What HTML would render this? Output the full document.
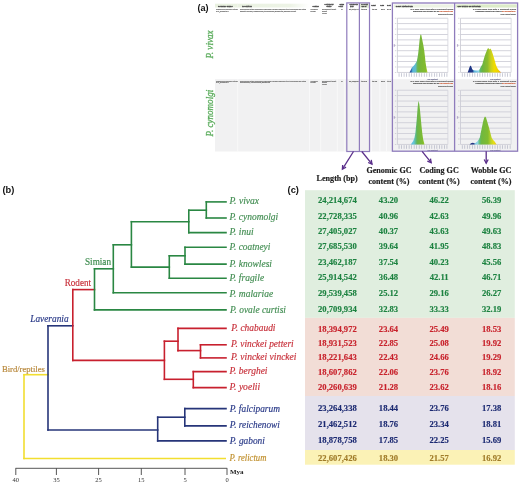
<!DOCTYPE html>
<html><head><meta charset="utf-8"><style>
html,body{margin:0;padding:0;background:#fff;}
body{width:520px;height:484px;overflow:hidden;position:relative;font-family:"Liberation Serif",serif;}
svg{position:absolute;left:0;top:0;display:block;}
</style></head><body>
<svg style="will-change:transform" width="520" height="484" viewBox="0 0 520 484">
<defs><filter id="tb" x="-20%" y="-60%" width="140%" height="220%"><feGaussianBlur stdDeviation="0.4"/></filter><linearGradient id="g1" gradientUnits="userSpaceOnUse" x1="409.5" x2="427.5" y1="0" y2="0"><stop offset="0" stop-color="#1f3a88"/><stop offset="0.1" stop-color="#2c64a8"/><stop offset="0.18" stop-color="#58b8dc"/><stop offset="0.34" stop-color="#62bcc8"/><stop offset="0.44" stop-color="#6cb858"/><stop offset="0.52" stop-color="#74b53c"/><stop offset="0.9" stop-color="#84bc2c"/><stop offset="1" stop-color="#b8d030"/></linearGradient><linearGradient id="g3" gradientUnits="userSpaceOnUse" x1="411" x2="424.5" y1="0" y2="0"><stop offset="0" stop-color="#5cc0e0"/><stop offset="0.2" stop-color="#66c4dc"/><stop offset="0.38" stop-color="#5cb878"/><stop offset="0.46" stop-color="#6ab44c"/><stop offset="0.85" stop-color="#7ebc30"/><stop offset="1" stop-color="#98c828"/></linearGradient><linearGradient id="w2" gradientUnits="userSpaceOnUse" x1="467.5" x2="501" y1="0" y2="0"><stop offset="0" stop-color="#1a2c7c"/><stop offset="0.15" stop-color="#203c8c"/><stop offset="0.2" stop-color="#58b4dc"/><stop offset="0.33" stop-color="#8cd4e8"/><stop offset="0.38" stop-color="#5cb870"/><stop offset="0.45" stop-color="#6cb440"/><stop offset="0.6" stop-color="#8cbc2c"/><stop offset="0.7" stop-color="#c8d020"/><stop offset="0.8" stop-color="#f0dc00"/><stop offset="0.92" stop-color="#f0d000"/><stop offset="1" stop-color="#e88828"/></linearGradient><linearGradient id="w4" gradientUnits="userSpaceOnUse" x1="469.5" x2="496.5" y1="0" y2="0"><stop offset="0" stop-color="#1a2c7c"/><stop offset="0.16" stop-color="#283c88"/><stop offset="0.22" stop-color="#7ccce4"/><stop offset="0.3" stop-color="#90d4e0"/><stop offset="0.38" stop-color="#60bc70"/><stop offset="0.45" stop-color="#70b840"/><stop offset="0.68" stop-color="#80bc30"/><stop offset="0.8" stop-color="#c0d428"/><stop offset="0.9" stop-color="#e8e010"/><stop offset="1" stop-color="#f0c020"/></linearGradient></defs>
<text x="197.4" y="11.2" font-family="Liberation Sans" font-size="9.1" fill="#111" font-weight="bold" font-style="normal" text-anchor="start" >(a)</text>
<defs><linearGradient id="hb" x1="0" x2="1" y1="0" y2="0"><stop offset="0" stop-color="#e9f1e0"/><stop offset="0.8" stop-color="#edf3e6"/><stop offset="1" stop-color="#ffffff"/></linearGradient></defs>
<rect x="215" y="3.7" width="94" height="3.8" fill="url(#hb)"/>
<rect x="237.3" y="3.7" width="0.8" height="3.8" fill="#f3f6ee"/>
<rect x="215" y="79.2" width="302.5" height="72.3" fill="#f1f1f2"/>
<rect x="237.4" y="79.2" width="0.8" height="72.3" fill="#fbfbfb"/>
<rect x="309.0" y="79.2" width="0.8" height="72.3" fill="#fbfbfb"/>
<rect x="320.4" y="79.2" width="0.8" height="72.3" fill="#fbfbfb"/>
<rect x="336.8" y="79.2" width="0.8" height="72.3" fill="#fbfbfb"/>
<rect x="343.8" y="79.2" width="0.8" height="72.3" fill="#fbfbfb"/>
<rect x="371.0" y="79.2" width="0.8" height="72.3" fill="#fbfbfb"/>
<rect x="379.5" y="79.2" width="0.8" height="72.3" fill="#fbfbfb"/>
<rect x="386.0" y="79.2" width="0.8" height="72.3" fill="#fbfbfb"/>
<text x="0" y="0" font-family="Liberation Serif" font-size="10.4" fill="#5cae5c" font-weight="normal" font-style="italic" text-anchor="start" stroke="#55a857" stroke-width="0.3" textLength="28.2" lengthAdjust="spacingAndGlyphs" transform="translate(212.6,58.6) rotate(-90)">P. vivax</text>
<text x="0" y="0" font-family="Liberation Serif" font-size="10.4" fill="#5cae5c" font-weight="normal" font-style="italic" text-anchor="start" stroke="#55a857" stroke-width="0.3" textLength="46.6" lengthAdjust="spacingAndGlyphs" transform="translate(212.5,136.4) rotate(-90)">P. cynomolgi</text>
<text x="218" y="6.9" font-family="Liberation Sans" font-size="2.3" fill="#505050" font-weight="bold" text-anchor="start" opacity="1.0" stroke="#505050" stroke-width="0.4"  textLength="14.6" lengthAdjust="spacingAndGlyphs">Genome Name</text>
<text x="242.2" y="6.9" font-family="Liberation Sans" font-size="2.3" fill="#505050" font-weight="bold" text-anchor="start" opacity="1.0" stroke="#505050" stroke-width="0.4"  textLength="9.6" lengthAdjust="spacingAndGlyphs">Description</text>
<text x="312.6" y="6.5" font-family="Liberation Sans" font-size="2.0" fill="#505050" font-weight="bold" text-anchor="start" opacity="1.0" stroke="#505050" stroke-width="0.4"  textLength="6.3" lengthAdjust="spacingAndGlyphs">Source</text>
<text x="324.6" y="5.0" font-family="Liberation Sans" font-size="2.0" fill="#505050" font-weight="bold" text-anchor="start" opacity="1.0" stroke="#505050" stroke-width="0.4"  textLength="9" lengthAdjust="spacingAndGlyphs">Sequencing</text>
<text x="326.5" y="7.0" font-family="Liberation Sans" font-size="2.0" fill="#505050" font-weight="bold" text-anchor="start" opacity="1.0" stroke="#505050" stroke-width="0.4"  textLength="5" lengthAdjust="spacingAndGlyphs">Status</text>
<text x="339.4" y="5.0" font-family="Liberation Sans" font-size="2.0" fill="#505050" font-weight="bold" text-anchor="start" opacity="1.0" stroke="#505050" stroke-width="0.4"  textLength="4.6" lengthAdjust="spacingAndGlyphs">Gene</text>
<text x="338.6" y="7.0" font-family="Liberation Sans" font-size="2.0" fill="#505050" font-weight="bold" text-anchor="start" opacity="1.0" stroke="#505050" stroke-width="0.4"  textLength="4.4" lengthAdjust="spacingAndGlyphs">Count</text>
<rect x="360" y="3.4" width="9" height="4.4" fill="#e2ecd6"/>
<text x="349.5" y="5.3" font-family="Liberation Sans" font-size="2.0" fill="#505050" font-weight="bold" text-anchor="start" opacity="1.0" stroke="#505050" stroke-width="0.4"  textLength="8.5" lengthAdjust="spacingAndGlyphs">Genome Size</text>
<text x="350" y="7.2" font-family="Liberation Sans" font-size="2.0" fill="#505050" font-weight="bold" text-anchor="start" opacity="1.0" stroke="#505050" stroke-width="0.4"  textLength="3.5" lengthAdjust="spacingAndGlyphs">(bp)</text>
<text x="361.3" y="5.3" font-family="Liberation Sans" font-size="2.0" fill="#505050" font-weight="bold" text-anchor="start" opacity="1.0" stroke="#505050" stroke-width="0.4"  textLength="6.5" lengthAdjust="spacingAndGlyphs">GC Count</text>
<text x="361.5" y="7.2" font-family="Liberation Sans" font-size="2.0" fill="#505050" font-weight="bold" text-anchor="start" opacity="1.0" stroke="#505050" stroke-width="0.4"  textLength="5" lengthAdjust="spacingAndGlyphs">GC %</text>
<text x="371.2" y="6.4" font-family="Liberation Sans" font-size="2.1" fill="#505050" font-weight="bold" text-anchor="start" opacity="1.0" stroke="#505050" stroke-width="0.4"  textLength="4.6" lengthAdjust="spacingAndGlyphs">GC%</text>
<text x="380.3" y="6.4" font-family="Liberation Sans" font-size="2.1" fill="#505050" font-weight="bold" text-anchor="start" opacity="1.0" stroke="#505050" stroke-width="0.4"  textLength="3.8" lengthAdjust="spacingAndGlyphs">GC3</text>
<text x="387" y="6.4" font-family="Liberation Sans" font-size="2.1" fill="#505050" font-weight="bold" text-anchor="start" opacity="1.0" stroke="#505050" stroke-width="0.4"  textLength="3.8" lengthAdjust="spacingAndGlyphs">GC4</text>
<text x="216" y="10.1" font-family="Liberation Sans" font-size="2.3" fill="#7a7a7a" font-weight="bold" text-anchor="start" opacity="1.0" stroke="#7a7a7a" stroke-width="0.22" filter="url(#tb)" textLength="22" lengthAdjust="spacingAndGlyphs">Plasmodium vivax Sal-1 (strain)</text>
<text x="216" y="11.9" font-family="Liberation Sans" font-size="2.3" fill="#7a7a7a" font-weight="bold" text-anchor="start" opacity="1.0" stroke="#7a7a7a" stroke-width="0.22" filter="url(#tb)" textLength="12.5" lengthAdjust="spacingAndGlyphs">GCA_000002415.1</text>
<text x="240" y="10.1" font-family="Liberation Sans" font-size="2.3" fill="#7a7a7a" font-weight="bold" text-anchor="start" opacity="1.0" stroke="#7a7a7a" stroke-width="0.22" filter="url(#tb)" textLength="66" lengthAdjust="spacingAndGlyphs">Whole genome shotgun sequencing of Plasmodium vivax Sal-1 assembled into 14 chromosomes and contigs</text>
<text x="240" y="11.9" font-family="Liberation Sans" font-size="2.3" fill="#7a7a7a" font-weight="bold" text-anchor="start" opacity="1.0" stroke="#7a7a7a" stroke-width="0.22" filter="url(#tb)" textLength="56" lengthAdjust="spacingAndGlyphs">Parasite biology; Plasmodium; Apicomplexa; Eukaryota; genome project</text>
<text x="310.6" y="10.1" font-family="Liberation Sans" font-size="2.3" fill="#7a7a7a" font-weight="bold" text-anchor="start" opacity="1.0" stroke="#7a7a7a" stroke-width="0.22" filter="url(#tb)" textLength="7" lengthAdjust="spacingAndGlyphs">GenBank</text>
<text x="310.6" y="11.9" font-family="Liberation Sans" font-size="2.3" fill="#7a7a7a" font-weight="bold" text-anchor="start" opacity="1.0" stroke="#7a7a7a" stroke-width="0.22" filter="url(#tb)" textLength="5" lengthAdjust="spacingAndGlyphs">NCBI</text>
<text x="322" y="10.1" font-family="Liberation Sans" font-size="2.3" fill="#7a7a7a" font-weight="bold" text-anchor="start" opacity="1.0" stroke="#7a7a7a" stroke-width="0.22" filter="url(#tb)" textLength="14" lengthAdjust="spacingAndGlyphs">Permanent Draft</text>
<text x="322" y="11.9" font-family="Liberation Sans" font-size="2.3" fill="#7a7a7a" font-weight="bold" text-anchor="start" opacity="1.0" stroke="#7a7a7a" stroke-width="0.22" filter="url(#tb)" textLength="5" lengthAdjust="spacingAndGlyphs">Draft</text>
<text x="322" y="13.7" font-family="Liberation Sans" font-size="2.3" fill="#7a7a7a" font-weight="bold" text-anchor="start" opacity="1.0" stroke="#7a7a7a" stroke-width="0.22" filter="url(#tb)" textLength="5" lengthAdjust="spacingAndGlyphs">Level</text>
<text x="341.2" y="10.1" font-family="Liberation Sans" font-size="2.3" fill="#7a7a7a" font-weight="bold" text-anchor="start" opacity="1.0" stroke="#7a7a7a" stroke-width="0.22" filter="url(#tb)" >0</text>
<text x="349" y="10.1" font-family="Liberation Sans" font-size="2.3" fill="#7a7a7a" font-weight="bold" text-anchor="start" opacity="1.0" stroke="#7a7a7a" stroke-width="0.22" filter="url(#tb)" textLength="9.5" lengthAdjust="spacingAndGlyphs">24,214,674</text>
<text x="361" y="10.1" font-family="Liberation Sans" font-size="2.3" fill="#7a7a7a" font-weight="bold" text-anchor="start" opacity="1.0" stroke="#7a7a7a" stroke-width="0.22" filter="url(#tb)" textLength="6" lengthAdjust="spacingAndGlyphs">43.20</text>
<text x="372" y="10.1" font-family="Liberation Sans" font-size="2.3" fill="#7a7a7a" font-weight="bold" text-anchor="start" opacity="1.0" stroke="#7a7a7a" stroke-width="0.22" filter="url(#tb)" textLength="5" lengthAdjust="spacingAndGlyphs">46.22</text>
<text x="381" y="10.1" font-family="Liberation Sans" font-size="2.3" fill="#7a7a7a" font-weight="bold" text-anchor="start" opacity="1.0" stroke="#7a7a7a" stroke-width="0.22" filter="url(#tb)" textLength="4" lengthAdjust="spacingAndGlyphs">85.1</text>
<text x="387" y="10.1" font-family="Liberation Sans" font-size="2.3" fill="#7a7a7a" font-weight="bold" text-anchor="start" opacity="1.0" stroke="#7a7a7a" stroke-width="0.22" filter="url(#tb)" textLength="4" lengthAdjust="spacingAndGlyphs">5.6</text>
<text x="216" y="81.6" font-family="Liberation Sans" font-size="2.3" fill="#7a7a7a" font-weight="bold" text-anchor="start" opacity="1.0" stroke="#7a7a7a" stroke-width="0.22" filter="url(#tb)" textLength="22" lengthAdjust="spacingAndGlyphs">Plasmodium vivax Sal-1 (strain)</text>
<text x="216" y="83.39999999999999" font-family="Liberation Sans" font-size="2.3" fill="#7a7a7a" font-weight="bold" text-anchor="start" opacity="1.0" stroke="#7a7a7a" stroke-width="0.22" filter="url(#tb)" textLength="12.5" lengthAdjust="spacingAndGlyphs">GCA_000002415.1</text>
<text x="240" y="81.6" font-family="Liberation Sans" font-size="2.3" fill="#7a7a7a" font-weight="bold" text-anchor="start" opacity="1.0" stroke="#7a7a7a" stroke-width="0.22" filter="url(#tb)" textLength="66" lengthAdjust="spacingAndGlyphs">Whole genome shotgun sequencing of Plasmodium vivax Sal-1 assembled into 14 chromosomes and contigs</text>
<text x="240" y="83.39999999999999" font-family="Liberation Sans" font-size="2.3" fill="#7a7a7a" font-weight="bold" text-anchor="start" opacity="1.0" stroke="#7a7a7a" stroke-width="0.22" filter="url(#tb)" textLength="30" lengthAdjust="spacingAndGlyphs">Plasmodium; Apicomplexa; Eukaryota</text>
<text x="310.6" y="81.6" font-family="Liberation Sans" font-size="2.3" fill="#7a7a7a" font-weight="bold" text-anchor="start" opacity="1.0" stroke="#7a7a7a" stroke-width="0.22" filter="url(#tb)" textLength="7" lengthAdjust="spacingAndGlyphs">GenBank</text>
<text x="310.6" y="83.39999999999999" font-family="Liberation Sans" font-size="2.3" fill="#7a7a7a" font-weight="bold" text-anchor="start" opacity="1.0" stroke="#7a7a7a" stroke-width="0.22" filter="url(#tb)" textLength="5" lengthAdjust="spacingAndGlyphs">NCBI</text>
<text x="322" y="81.6" font-family="Liberation Sans" font-size="2.3" fill="#7a7a7a" font-weight="bold" text-anchor="start" opacity="1.0" stroke="#7a7a7a" stroke-width="0.22" filter="url(#tb)" textLength="14" lengthAdjust="spacingAndGlyphs">Permanent Draft</text>
<text x="322" y="83.39999999999999" font-family="Liberation Sans" font-size="2.3" fill="#7a7a7a" font-weight="bold" text-anchor="start" opacity="1.0" stroke="#7a7a7a" stroke-width="0.22" filter="url(#tb)" textLength="5" lengthAdjust="spacingAndGlyphs">Draft</text>
<text x="322" y="85.19999999999999" font-family="Liberation Sans" font-size="2.3" fill="#7a7a7a" font-weight="bold" text-anchor="start" opacity="1.0" stroke="#7a7a7a" stroke-width="0.22" filter="url(#tb)" textLength="5" lengthAdjust="spacingAndGlyphs">Level</text>
<text x="341.2" y="81.6" font-family="Liberation Sans" font-size="2.3" fill="#7a7a7a" font-weight="bold" text-anchor="start" opacity="1.0" stroke="#7a7a7a" stroke-width="0.22" filter="url(#tb)" >0</text>
<text x="349" y="81.6" font-family="Liberation Sans" font-size="2.3" fill="#7a7a7a" font-weight="bold" text-anchor="start" opacity="1.0" stroke="#7a7a7a" stroke-width="0.22" filter="url(#tb)" textLength="9.5" lengthAdjust="spacingAndGlyphs">22,728,335</text>
<text x="361" y="81.6" font-family="Liberation Sans" font-size="2.3" fill="#7a7a7a" font-weight="bold" text-anchor="start" opacity="1.0" stroke="#7a7a7a" stroke-width="0.22" filter="url(#tb)" textLength="6" lengthAdjust="spacingAndGlyphs">40.96</text>
<text x="372" y="81.6" font-family="Liberation Sans" font-size="2.3" fill="#7a7a7a" font-weight="bold" text-anchor="start" opacity="1.0" stroke="#7a7a7a" stroke-width="0.22" filter="url(#tb)" textLength="5" lengthAdjust="spacingAndGlyphs">42.63</text>
<text x="381" y="81.6" font-family="Liberation Sans" font-size="2.3" fill="#7a7a7a" font-weight="bold" text-anchor="start" opacity="1.0" stroke="#7a7a7a" stroke-width="0.22" filter="url(#tb)" textLength="4" lengthAdjust="spacingAndGlyphs">88.0</text>
<text x="387" y="81.6" font-family="Liberation Sans" font-size="2.3" fill="#7a7a7a" font-weight="bold" text-anchor="start" opacity="1.0" stroke="#7a7a7a" stroke-width="0.22" filter="url(#tb)" textLength="4" lengthAdjust="spacingAndGlyphs">4.9</text>
<rect x="397.3" y="17.75" width="50.60000000000002" height="0.9" fill="#cfcfd8"/>
<rect x="394.90000000000003" y="17.80" width="1.4" height="0.8" fill="#b0b0b8" opacity="0.6"/>
<rect x="397.3" y="23.17" width="50.60000000000002" height="0.9" fill="#cfcfd8"/>
<rect x="394.90000000000003" y="23.22" width="1.4" height="0.8" fill="#b0b0b8" opacity="0.6"/>
<rect x="397.3" y="28.59" width="50.60000000000002" height="0.9" fill="#cfcfd8"/>
<rect x="394.90000000000003" y="28.64" width="1.4" height="0.8" fill="#b0b0b8" opacity="0.6"/>
<rect x="397.3" y="34.01" width="50.60000000000002" height="0.9" fill="#cfcfd8"/>
<rect x="394.90000000000003" y="34.06" width="1.4" height="0.8" fill="#b0b0b8" opacity="0.6"/>
<rect x="397.3" y="39.43" width="50.60000000000002" height="0.9" fill="#cfcfd8"/>
<rect x="394.90000000000003" y="39.48" width="1.4" height="0.8" fill="#b0b0b8" opacity="0.6"/>
<rect x="397.3" y="44.85" width="50.60000000000002" height="0.9" fill="#cfcfd8"/>
<rect x="394.90000000000003" y="44.90" width="1.4" height="0.8" fill="#b0b0b8" opacity="0.6"/>
<rect x="397.3" y="50.27" width="50.60000000000002" height="0.9" fill="#cfcfd8"/>
<rect x="394.90000000000003" y="50.32" width="1.4" height="0.8" fill="#b0b0b8" opacity="0.6"/>
<rect x="397.3" y="55.69" width="50.60000000000002" height="0.9" fill="#cfcfd8"/>
<rect x="394.90000000000003" y="55.74" width="1.4" height="0.8" fill="#b0b0b8" opacity="0.6"/>
<rect x="397.3" y="61.11" width="50.60000000000002" height="0.9" fill="#cfcfd8"/>
<rect x="394.90000000000003" y="61.16" width="1.4" height="0.8" fill="#b0b0b8" opacity="0.6"/>
<rect x="397.3" y="66.53" width="50.60000000000002" height="0.9" fill="#cfcfd8"/>
<rect x="394.90000000000003" y="66.58" width="1.4" height="0.8" fill="#b0b0b8" opacity="0.6"/>
<rect x="397.3" y="71.95" width="50.60000000000002" height="0.9" fill="#cfcfd8"/>
<rect x="394.90000000000003" y="72.00" width="1.4" height="0.8" fill="#b0b0b8" opacity="0.6"/>
<rect x="396.90000000000003" y="18.2" width="0.8" height="54.2" fill="#c8c8d2"/>
<rect x="447.50000000000006" y="18.2" width="0.8" height="54.2" fill="#d4d4dc"/>
<rect x="398.70" y="73.20" width="0.7" height="3.6" fill="#a0a4b8" opacity="0.8"/>
<rect x="401.22" y="73.20" width="0.7" height="3.6" fill="#a0a4b8" opacity="0.8"/>
<rect x="403.74" y="73.20" width="0.7" height="3.6" fill="#a0a4b8" opacity="0.8"/>
<rect x="406.26" y="73.20" width="0.7" height="3.6" fill="#a0a4b8" opacity="0.8"/>
<rect x="408.78" y="73.20" width="0.7" height="3.6" fill="#a0a4b8" opacity="0.8"/>
<rect x="411.30" y="73.20" width="0.7" height="3.6" fill="#a0a4b8" opacity="0.8"/>
<rect x="413.82" y="73.20" width="0.7" height="3.6" fill="#a0a4b8" opacity="0.8"/>
<rect x="416.34" y="73.20" width="0.7" height="3.6" fill="#a0a4b8" opacity="0.8"/>
<rect x="418.86" y="73.20" width="0.7" height="3.6" fill="#a0a4b8" opacity="0.8"/>
<rect x="421.38" y="73.20" width="0.7" height="3.6" fill="#a0a4b8" opacity="0.8"/>
<rect x="423.90" y="73.20" width="0.7" height="3.6" fill="#a0a4b8" opacity="0.8"/>
<rect x="426.42" y="73.20" width="0.7" height="3.6" fill="#a0a4b8" opacity="0.8"/>
<rect x="428.94" y="73.20" width="0.7" height="3.6" fill="#a0a4b8" opacity="0.8"/>
<rect x="431.46" y="73.20" width="0.7" height="3.6" fill="#a0a4b8" opacity="0.8"/>
<rect x="433.98" y="73.20" width="0.7" height="3.6" fill="#a0a4b8" opacity="0.8"/>
<rect x="436.50" y="73.20" width="0.7" height="3.6" fill="#a0a4b8" opacity="0.8"/>
<rect x="439.02" y="73.20" width="0.7" height="3.6" fill="#a0a4b8" opacity="0.8"/>
<rect x="441.54" y="73.20" width="0.7" height="3.6" fill="#a0a4b8" opacity="0.8"/>
<rect x="444.06" y="73.20" width="0.7" height="3.6" fill="#a0a4b8" opacity="0.8"/>
<rect x="446.58" y="73.20" width="0.7" height="3.6" fill="#a0a4b8" opacity="0.8"/>
<rect x="393.7" y="44.2" width="1.2" height="2.5" fill="#9a8ab8" opacity="0.7"/>
<polygon points="409.5,72.4 410.5,70.5 412,67.5 414.4,65.1 416.8,61.3 418,55 418.7,49 419.6,40 420.4,34.6 421.3,35 422.3,40 423.5,46 424.3,51 425,57 425.5,62 426.3,67 427.5,72.4" fill="url(#g1)"/>
<rect x="460.5" y="17.75" width="50.60000000000002" height="0.9" fill="#cfcfd8"/>
<rect x="458.1" y="17.80" width="1.4" height="0.8" fill="#b0b0b8" opacity="0.6"/>
<rect x="460.5" y="23.17" width="50.60000000000002" height="0.9" fill="#cfcfd8"/>
<rect x="458.1" y="23.22" width="1.4" height="0.8" fill="#b0b0b8" opacity="0.6"/>
<rect x="460.5" y="28.59" width="50.60000000000002" height="0.9" fill="#cfcfd8"/>
<rect x="458.1" y="28.64" width="1.4" height="0.8" fill="#b0b0b8" opacity="0.6"/>
<rect x="460.5" y="34.01" width="50.60000000000002" height="0.9" fill="#cfcfd8"/>
<rect x="458.1" y="34.06" width="1.4" height="0.8" fill="#b0b0b8" opacity="0.6"/>
<rect x="460.5" y="39.43" width="50.60000000000002" height="0.9" fill="#cfcfd8"/>
<rect x="458.1" y="39.48" width="1.4" height="0.8" fill="#b0b0b8" opacity="0.6"/>
<rect x="460.5" y="44.85" width="50.60000000000002" height="0.9" fill="#cfcfd8"/>
<rect x="458.1" y="44.90" width="1.4" height="0.8" fill="#b0b0b8" opacity="0.6"/>
<rect x="460.5" y="50.27" width="50.60000000000002" height="0.9" fill="#cfcfd8"/>
<rect x="458.1" y="50.32" width="1.4" height="0.8" fill="#b0b0b8" opacity="0.6"/>
<rect x="460.5" y="55.69" width="50.60000000000002" height="0.9" fill="#cfcfd8"/>
<rect x="458.1" y="55.74" width="1.4" height="0.8" fill="#b0b0b8" opacity="0.6"/>
<rect x="460.5" y="61.11" width="50.60000000000002" height="0.9" fill="#cfcfd8"/>
<rect x="458.1" y="61.16" width="1.4" height="0.8" fill="#b0b0b8" opacity="0.6"/>
<rect x="460.5" y="66.53" width="50.60000000000002" height="0.9" fill="#cfcfd8"/>
<rect x="458.1" y="66.58" width="1.4" height="0.8" fill="#b0b0b8" opacity="0.6"/>
<rect x="460.5" y="71.95" width="50.60000000000002" height="0.9" fill="#cfcfd8"/>
<rect x="458.1" y="72.00" width="1.4" height="0.8" fill="#b0b0b8" opacity="0.6"/>
<rect x="460.1" y="18.2" width="0.8" height="54.2" fill="#c8c8d2"/>
<rect x="510.70000000000005" y="18.2" width="0.8" height="54.2" fill="#d4d4dc"/>
<rect x="461.90" y="73.20" width="0.7" height="3.6" fill="#a0a4b8" opacity="0.8"/>
<rect x="464.42" y="73.20" width="0.7" height="3.6" fill="#a0a4b8" opacity="0.8"/>
<rect x="466.94" y="73.20" width="0.7" height="3.6" fill="#a0a4b8" opacity="0.8"/>
<rect x="469.46" y="73.20" width="0.7" height="3.6" fill="#a0a4b8" opacity="0.8"/>
<rect x="471.98" y="73.20" width="0.7" height="3.6" fill="#a0a4b8" opacity="0.8"/>
<rect x="474.50" y="73.20" width="0.7" height="3.6" fill="#a0a4b8" opacity="0.8"/>
<rect x="477.02" y="73.20" width="0.7" height="3.6" fill="#a0a4b8" opacity="0.8"/>
<rect x="479.54" y="73.20" width="0.7" height="3.6" fill="#a0a4b8" opacity="0.8"/>
<rect x="482.06" y="73.20" width="0.7" height="3.6" fill="#a0a4b8" opacity="0.8"/>
<rect x="484.58" y="73.20" width="0.7" height="3.6" fill="#a0a4b8" opacity="0.8"/>
<rect x="487.10" y="73.20" width="0.7" height="3.6" fill="#a0a4b8" opacity="0.8"/>
<rect x="489.62" y="73.20" width="0.7" height="3.6" fill="#a0a4b8" opacity="0.8"/>
<rect x="492.14" y="73.20" width="0.7" height="3.6" fill="#a0a4b8" opacity="0.8"/>
<rect x="494.66" y="73.20" width="0.7" height="3.6" fill="#a0a4b8" opacity="0.8"/>
<rect x="497.18" y="73.20" width="0.7" height="3.6" fill="#a0a4b8" opacity="0.8"/>
<rect x="499.70" y="73.20" width="0.7" height="3.6" fill="#a0a4b8" opacity="0.8"/>
<rect x="502.22" y="73.20" width="0.7" height="3.6" fill="#a0a4b8" opacity="0.8"/>
<rect x="504.74" y="73.20" width="0.7" height="3.6" fill="#a0a4b8" opacity="0.8"/>
<rect x="507.26" y="73.20" width="0.7" height="3.6" fill="#a0a4b8" opacity="0.8"/>
<rect x="509.78" y="73.20" width="0.7" height="3.6" fill="#a0a4b8" opacity="0.8"/>
<rect x="456.9" y="44.2" width="1.2" height="2.5" fill="#9a8ab8" opacity="0.7"/>
<polygon points="467.6,72.4 468.6,70 469.6,67 470.4,65.6 471.3,66.6 472.2,69.2 473.5,70.2 476,70.6 478.5,70.4 479.8,69 481,66.5 482.3,64.5 483.4,60.5 484.4,56.9 485.6,53.5 486.8,50.6 487.7,48.6 488.6,48.2 489.6,49.5 490.6,48.4 491.6,50.8 492.6,53.6 493.7,56.9 494.8,60.8 495.8,64.5 497,67.4 498.2,69.4 499.6,71 501.2,72.4" fill="url(#w2)"/>
<rect x="397.3" y="89.75" width="50.60000000000002" height="0.9" fill="#cfcfd8"/>
<rect x="394.90000000000003" y="89.80" width="1.4" height="0.8" fill="#b0b0b8" opacity="0.6"/>
<rect x="397.3" y="95.17" width="50.60000000000002" height="0.9" fill="#cfcfd8"/>
<rect x="394.90000000000003" y="95.22" width="1.4" height="0.8" fill="#b0b0b8" opacity="0.6"/>
<rect x="397.3" y="100.59" width="50.60000000000002" height="0.9" fill="#cfcfd8"/>
<rect x="394.90000000000003" y="100.64" width="1.4" height="0.8" fill="#b0b0b8" opacity="0.6"/>
<rect x="397.3" y="106.01" width="50.60000000000002" height="0.9" fill="#cfcfd8"/>
<rect x="394.90000000000003" y="106.06" width="1.4" height="0.8" fill="#b0b0b8" opacity="0.6"/>
<rect x="397.3" y="111.43" width="50.60000000000002" height="0.9" fill="#cfcfd8"/>
<rect x="394.90000000000003" y="111.48" width="1.4" height="0.8" fill="#b0b0b8" opacity="0.6"/>
<rect x="397.3" y="116.85" width="50.60000000000002" height="0.9" fill="#cfcfd8"/>
<rect x="394.90000000000003" y="116.90" width="1.4" height="0.8" fill="#b0b0b8" opacity="0.6"/>
<rect x="397.3" y="122.27" width="50.60000000000002" height="0.9" fill="#cfcfd8"/>
<rect x="394.90000000000003" y="122.32" width="1.4" height="0.8" fill="#b0b0b8" opacity="0.6"/>
<rect x="397.3" y="127.69" width="50.60000000000002" height="0.9" fill="#cfcfd8"/>
<rect x="394.90000000000003" y="127.74" width="1.4" height="0.8" fill="#b0b0b8" opacity="0.6"/>
<rect x="397.3" y="133.11" width="50.60000000000002" height="0.9" fill="#cfcfd8"/>
<rect x="394.90000000000003" y="133.16" width="1.4" height="0.8" fill="#b0b0b8" opacity="0.6"/>
<rect x="397.3" y="138.53" width="50.60000000000002" height="0.9" fill="#cfcfd8"/>
<rect x="394.90000000000003" y="138.58" width="1.4" height="0.8" fill="#b0b0b8" opacity="0.6"/>
<rect x="397.3" y="143.95" width="50.60000000000002" height="0.9" fill="#cfcfd8"/>
<rect x="394.90000000000003" y="144.00" width="1.4" height="0.8" fill="#b0b0b8" opacity="0.6"/>
<rect x="396.90000000000003" y="90.2" width="0.8" height="54.2" fill="#c8c8d2"/>
<rect x="447.50000000000006" y="90.2" width="0.8" height="54.2" fill="#d4d4dc"/>
<rect x="398.70" y="145.20" width="0.7" height="3.6" fill="#a0a4b8" opacity="0.8"/>
<rect x="401.22" y="145.20" width="0.7" height="3.6" fill="#a0a4b8" opacity="0.8"/>
<rect x="403.74" y="145.20" width="0.7" height="3.6" fill="#a0a4b8" opacity="0.8"/>
<rect x="406.26" y="145.20" width="0.7" height="3.6" fill="#a0a4b8" opacity="0.8"/>
<rect x="408.78" y="145.20" width="0.7" height="3.6" fill="#a0a4b8" opacity="0.8"/>
<rect x="411.30" y="145.20" width="0.7" height="3.6" fill="#a0a4b8" opacity="0.8"/>
<rect x="413.82" y="145.20" width="0.7" height="3.6" fill="#a0a4b8" opacity="0.8"/>
<rect x="416.34" y="145.20" width="0.7" height="3.6" fill="#a0a4b8" opacity="0.8"/>
<rect x="418.86" y="145.20" width="0.7" height="3.6" fill="#a0a4b8" opacity="0.8"/>
<rect x="421.38" y="145.20" width="0.7" height="3.6" fill="#a0a4b8" opacity="0.8"/>
<rect x="423.90" y="145.20" width="0.7" height="3.6" fill="#a0a4b8" opacity="0.8"/>
<rect x="426.42" y="145.20" width="0.7" height="3.6" fill="#a0a4b8" opacity="0.8"/>
<rect x="428.94" y="145.20" width="0.7" height="3.6" fill="#a0a4b8" opacity="0.8"/>
<rect x="431.46" y="145.20" width="0.7" height="3.6" fill="#a0a4b8" opacity="0.8"/>
<rect x="433.98" y="145.20" width="0.7" height="3.6" fill="#a0a4b8" opacity="0.8"/>
<rect x="436.50" y="145.20" width="0.7" height="3.6" fill="#a0a4b8" opacity="0.8"/>
<rect x="439.02" y="145.20" width="0.7" height="3.6" fill="#a0a4b8" opacity="0.8"/>
<rect x="441.54" y="145.20" width="0.7" height="3.6" fill="#a0a4b8" opacity="0.8"/>
<rect x="444.06" y="145.20" width="0.7" height="3.6" fill="#a0a4b8" opacity="0.8"/>
<rect x="446.58" y="145.20" width="0.7" height="3.6" fill="#a0a4b8" opacity="0.8"/>
<rect x="393.7" y="116.2" width="1.2" height="2.5" fill="#9a8ab8" opacity="0.7"/>
<polygon points="410.8,144.4 413.1,141.2 414.4,138 415.3,133.6 416.2,125 416.9,117.5 417.6,108 418.4,100.8 419.3,104 420,110 420.7,117.5 421.5,126 422.3,133.6 423.2,139.5 424.5,144.4" fill="url(#g3)"/>
<rect x="460.5" y="89.75" width="50.60000000000002" height="0.9" fill="#cfcfd8"/>
<rect x="458.1" y="89.80" width="1.4" height="0.8" fill="#b0b0b8" opacity="0.6"/>
<rect x="460.5" y="95.17" width="50.60000000000002" height="0.9" fill="#cfcfd8"/>
<rect x="458.1" y="95.22" width="1.4" height="0.8" fill="#b0b0b8" opacity="0.6"/>
<rect x="460.5" y="100.59" width="50.60000000000002" height="0.9" fill="#cfcfd8"/>
<rect x="458.1" y="100.64" width="1.4" height="0.8" fill="#b0b0b8" opacity="0.6"/>
<rect x="460.5" y="106.01" width="50.60000000000002" height="0.9" fill="#cfcfd8"/>
<rect x="458.1" y="106.06" width="1.4" height="0.8" fill="#b0b0b8" opacity="0.6"/>
<rect x="460.5" y="111.43" width="50.60000000000002" height="0.9" fill="#cfcfd8"/>
<rect x="458.1" y="111.48" width="1.4" height="0.8" fill="#b0b0b8" opacity="0.6"/>
<rect x="460.5" y="116.85" width="50.60000000000002" height="0.9" fill="#cfcfd8"/>
<rect x="458.1" y="116.90" width="1.4" height="0.8" fill="#b0b0b8" opacity="0.6"/>
<rect x="460.5" y="122.27" width="50.60000000000002" height="0.9" fill="#cfcfd8"/>
<rect x="458.1" y="122.32" width="1.4" height="0.8" fill="#b0b0b8" opacity="0.6"/>
<rect x="460.5" y="127.69" width="50.60000000000002" height="0.9" fill="#cfcfd8"/>
<rect x="458.1" y="127.74" width="1.4" height="0.8" fill="#b0b0b8" opacity="0.6"/>
<rect x="460.5" y="133.11" width="50.60000000000002" height="0.9" fill="#cfcfd8"/>
<rect x="458.1" y="133.16" width="1.4" height="0.8" fill="#b0b0b8" opacity="0.6"/>
<rect x="460.5" y="138.53" width="50.60000000000002" height="0.9" fill="#cfcfd8"/>
<rect x="458.1" y="138.58" width="1.4" height="0.8" fill="#b0b0b8" opacity="0.6"/>
<rect x="460.5" y="143.95" width="50.60000000000002" height="0.9" fill="#cfcfd8"/>
<rect x="458.1" y="144.00" width="1.4" height="0.8" fill="#b0b0b8" opacity="0.6"/>
<rect x="460.1" y="90.2" width="0.8" height="54.2" fill="#c8c8d2"/>
<rect x="510.70000000000005" y="90.2" width="0.8" height="54.2" fill="#d4d4dc"/>
<rect x="461.90" y="145.20" width="0.7" height="3.6" fill="#a0a4b8" opacity="0.8"/>
<rect x="464.42" y="145.20" width="0.7" height="3.6" fill="#a0a4b8" opacity="0.8"/>
<rect x="466.94" y="145.20" width="0.7" height="3.6" fill="#a0a4b8" opacity="0.8"/>
<rect x="469.46" y="145.20" width="0.7" height="3.6" fill="#a0a4b8" opacity="0.8"/>
<rect x="471.98" y="145.20" width="0.7" height="3.6" fill="#a0a4b8" opacity="0.8"/>
<rect x="474.50" y="145.20" width="0.7" height="3.6" fill="#a0a4b8" opacity="0.8"/>
<rect x="477.02" y="145.20" width="0.7" height="3.6" fill="#a0a4b8" opacity="0.8"/>
<rect x="479.54" y="145.20" width="0.7" height="3.6" fill="#a0a4b8" opacity="0.8"/>
<rect x="482.06" y="145.20" width="0.7" height="3.6" fill="#a0a4b8" opacity="0.8"/>
<rect x="484.58" y="145.20" width="0.7" height="3.6" fill="#a0a4b8" opacity="0.8"/>
<rect x="487.10" y="145.20" width="0.7" height="3.6" fill="#a0a4b8" opacity="0.8"/>
<rect x="489.62" y="145.20" width="0.7" height="3.6" fill="#a0a4b8" opacity="0.8"/>
<rect x="492.14" y="145.20" width="0.7" height="3.6" fill="#a0a4b8" opacity="0.8"/>
<rect x="494.66" y="145.20" width="0.7" height="3.6" fill="#a0a4b8" opacity="0.8"/>
<rect x="497.18" y="145.20" width="0.7" height="3.6" fill="#a0a4b8" opacity="0.8"/>
<rect x="499.70" y="145.20" width="0.7" height="3.6" fill="#a0a4b8" opacity="0.8"/>
<rect x="502.22" y="145.20" width="0.7" height="3.6" fill="#a0a4b8" opacity="0.8"/>
<rect x="504.74" y="145.20" width="0.7" height="3.6" fill="#a0a4b8" opacity="0.8"/>
<rect x="507.26" y="145.20" width="0.7" height="3.6" fill="#a0a4b8" opacity="0.8"/>
<rect x="509.78" y="145.20" width="0.7" height="3.6" fill="#a0a4b8" opacity="0.8"/>
<rect x="456.9" y="116.2" width="1.2" height="2.5" fill="#9a8ab8" opacity="0.7"/>
<polygon points="469.6,144.4 471,143.3 472.8,142.8 474.4,143.2 475.8,142.7 477.2,141.4 478.6,139.8 479.8,137.6 480.8,132.5 481.9,127.5 483,122 484.1,118 485,116.4 486,117.5 487.2,121.5 488.2,125 489,127.5 490.3,132.5 491.6,137.6 493.1,140 494.6,141.4 495.6,143 496.6,144.4" fill="url(#w4)"/>
<rect x="393.8" y="4.4" width="59.8" height="3.2" fill="#edf3e4"/>
<rect x="455.6" y="4.4" width="61.2" height="3.2" fill="#dcebc8"/>
<text x="395.7" y="6.9" font-family="Liberation Sans" font-size="2.2" fill="#505050" font-weight="bold" text-anchor="start" opacity="1.0" stroke="#505050" stroke-width="0.4"  textLength="17" lengthAdjust="spacingAndGlyphs">GC% Histogram</text>
<text x="457.6" y="6.9" font-family="Liberation Sans" font-size="2.2" fill="#505050" font-weight="bold" text-anchor="start" opacity="1.0" stroke="#505050" stroke-width="0.4"  textLength="23" lengthAdjust="spacingAndGlyphs">GC3 Wobble GC Histogram</text>
<text x="410.5" y="10.3" font-family="Liberation Sans" font-size="2.1" fill="#707070" font-weight="bold" text-anchor="start" opacity="1.0" stroke="#707070" stroke-width="0.22" filter="url(#tb)" textLength="43" lengthAdjust="spacingAndGlyphs">#  x   Min  Max  Avg  Std   1 Percent  Gene</text>
<text x="413" y="12.3" font-family="Liberation Sans" font-size="2.1" fill="#606060" font-weight="bold" text-anchor="start" opacity="1.0" stroke="#606060" stroke-width="0.22" filter="url(#tb)" textLength="26" lengthAdjust="spacingAndGlyphs">Plasmodium vivax 24.3 85.1 43.2 5.6</text>
<text x="439.5" y="12.3" font-family="Liberation Sans" font-size="2.1" fill="#d07050" font-weight="bold" text-anchor="start" opacity="1.0" stroke="#d07050" stroke-width="0.22" filter="url(#tb)" textLength="13.5" lengthAdjust="spacingAndGlyphs">0.0 Percent 0.01</text>
<text x="438" y="14.5" font-family="Liberation Sans" font-size="2.1" fill="#707070" font-weight="bold" text-anchor="start" opacity="1.0" stroke="#707070" stroke-width="0.22" filter="url(#tb)" textLength="15" lengthAdjust="spacingAndGlyphs">Gene Percent Genes</text>
<text x="473.1" y="10.3" font-family="Liberation Sans" font-size="2.1" fill="#707070" font-weight="bold" text-anchor="start" opacity="1.0" stroke="#707070" stroke-width="0.22" filter="url(#tb)" textLength="43" lengthAdjust="spacingAndGlyphs">#  x   Min  Max  Avg  Std   1 Percent  Gene</text>
<text x="475.6" y="12.3" font-family="Liberation Sans" font-size="2.1" fill="#606060" font-weight="bold" text-anchor="start" opacity="1.0" stroke="#606060" stroke-width="0.22" filter="url(#tb)" textLength="26" lengthAdjust="spacingAndGlyphs">Plasmodium vivax 24.3 85.1 43.2 5.6</text>
<text x="502.1" y="12.3" font-family="Liberation Sans" font-size="2.1" fill="#d07050" font-weight="bold" text-anchor="start" opacity="1.0" stroke="#d07050" stroke-width="0.22" filter="url(#tb)" textLength="13.5" lengthAdjust="spacingAndGlyphs">0.0 Percent 0.01</text>
<text x="500.6" y="14.5" font-family="Liberation Sans" font-size="2.1" fill="#707070" font-weight="bold" text-anchor="start" opacity="1.0" stroke="#707070" stroke-width="0.22" filter="url(#tb)" textLength="15" lengthAdjust="spacingAndGlyphs">Gene Percent Genes</text>
<text x="410.5" y="82.4" font-family="Liberation Sans" font-size="2.1" fill="#707070" font-weight="bold" text-anchor="start" opacity="1.0" stroke="#707070" stroke-width="0.22" filter="url(#tb)" textLength="43" lengthAdjust="spacingAndGlyphs">#  x   Min  Max  Avg  Std   1 Percent  Gene</text>
<text x="413" y="84.4" font-family="Liberation Sans" font-size="2.1" fill="#606060" font-weight="bold" text-anchor="start" opacity="1.0" stroke="#606060" stroke-width="0.22" filter="url(#tb)" textLength="26" lengthAdjust="spacingAndGlyphs">Plasmodium vivax 24.3 85.1 43.2 5.6</text>
<text x="439.5" y="84.4" font-family="Liberation Sans" font-size="2.1" fill="#d07050" font-weight="bold" text-anchor="start" opacity="1.0" stroke="#d07050" stroke-width="0.22" filter="url(#tb)" textLength="13.5" lengthAdjust="spacingAndGlyphs">0.0 Percent 0.01</text>
<text x="438" y="86.60000000000001" font-family="Liberation Sans" font-size="2.1" fill="#707070" font-weight="bold" text-anchor="start" opacity="1.0" stroke="#707070" stroke-width="0.22" filter="url(#tb)" textLength="15" lengthAdjust="spacingAndGlyphs">Gene Percent Genes</text>
<text x="473.1" y="82.4" font-family="Liberation Sans" font-size="2.1" fill="#707070" font-weight="bold" text-anchor="start" opacity="1.0" stroke="#707070" stroke-width="0.22" filter="url(#tb)" textLength="43" lengthAdjust="spacingAndGlyphs">#  x   Min  Max  Avg  Std   1 Percent  Gene</text>
<text x="475.6" y="84.4" font-family="Liberation Sans" font-size="2.1" fill="#606060" font-weight="bold" text-anchor="start" opacity="1.0" stroke="#606060" stroke-width="0.22" filter="url(#tb)" textLength="26" lengthAdjust="spacingAndGlyphs">Plasmodium vivax 24.3 85.1 43.2 5.6</text>
<text x="502.1" y="84.4" font-family="Liberation Sans" font-size="2.1" fill="#d07050" font-weight="bold" text-anchor="start" opacity="1.0" stroke="#d07050" stroke-width="0.22" filter="url(#tb)" textLength="13.5" lengthAdjust="spacingAndGlyphs">0.0 Percent 0.01</text>
<text x="500.6" y="86.60000000000001" font-family="Liberation Sans" font-size="2.1" fill="#707070" font-weight="bold" text-anchor="start" opacity="1.0" stroke="#707070" stroke-width="0.22" filter="url(#tb)" textLength="15" lengthAdjust="spacingAndGlyphs">Gene Percent Genes</text>
<text x="427.5" y="79.6" font-family="Liberation Sans" font-size="2.0" fill="#8080a0" font-weight="bold" text-anchor="start" opacity="1.0" stroke="#8080a0" stroke-width="0.22" filter="url(#tb)" textLength="10" lengthAdjust="spacingAndGlyphs">GC Content</text>
<text x="490.3" y="79.6" font-family="Liberation Sans" font-size="2.0" fill="#8080a0" font-weight="bold" text-anchor="start" opacity="1.0" stroke="#8080a0" stroke-width="0.22" filter="url(#tb)" textLength="10" lengthAdjust="spacingAndGlyphs">GC Content</text>
<text x="427.5" y="150.6" font-family="Liberation Sans" font-size="2.0" fill="#8080a0" font-weight="bold" text-anchor="start" opacity="1.0" stroke="#8080a0" stroke-width="0.22" filter="url(#tb)" textLength="10" lengthAdjust="spacingAndGlyphs">GC Content</text>
<text x="490.3" y="150.6" font-family="Liberation Sans" font-size="2.0" fill="#8080a0" font-weight="bold" text-anchor="start" opacity="1.0" stroke="#8080a0" stroke-width="0.22" filter="url(#tb)" textLength="10" lengthAdjust="spacingAndGlyphs">GC Content</text>
<rect x="346.8" y="2.9" width="22.7" height="148.6" fill="none" stroke="#8f7cbc" stroke-width="1.2"/>
<line x1="359.4" y1="2.9" x2="359.4" y2="151.5" stroke="#8f7cbc" stroke-width="1.2" />
<rect x="392.4" y="3.0" width="125.2" height="148.2" fill="none" stroke="#8f7cbc" stroke-width="1.3"/>
<line x1="454.6" y1="3.0" x2="454.6" y2="151.2" stroke="#8f7cbc" stroke-width="1.3" />
<line x1="353.5" y1="151.5" x2="342.4" y2="169.2" stroke="#5a2e8a" stroke-width="1.3" /><polyline points="342.65,165.01 342.4,169.2 346.06,167.15" fill="none" stroke="#5a2e8a" stroke-width="1.3"/>
<line x1="361.8" y1="151.5" x2="372.0" y2="164.1" stroke="#5a2e8a" stroke-width="1.3" /><polyline points="368.12,162.50 372.0,164.1 371.25,159.97" fill="none" stroke="#5a2e8a" stroke-width="1.3"/>
<line x1="422.1" y1="151.3" x2="431.2" y2="162.7" stroke="#5a2e8a" stroke-width="1.3" /><polyline points="427.33,161.08 431.2,162.7 430.47,158.56" fill="none" stroke="#5a2e8a" stroke-width="1.3"/>
<line x1="486.2" y1="151.3" x2="486.2" y2="163.2" stroke="#5a2e8a" stroke-width="1.3" /><polyline points="484.19,159.51 486.2,163.2 488.21,159.51" fill="none" stroke="#5a2e8a" stroke-width="1.3"/>
<text x="2.5" y="193.3" font-family="Liberation Sans" font-size="9.3" fill="#111" font-weight="bold" font-style="normal" text-anchor="start" >(b)</text>
<line x1="24" y1="374.7" x2="48" y2="374.7" stroke="#f2de30" stroke-width="1.6" stroke-linecap="square"/>
<line x1="24" y1="458.5" x2="225.2" y2="458.5" stroke="#f2de30" stroke-width="1.6" stroke-linecap="square"/>
<line x1="24" y1="374.7" x2="24" y2="458.5" stroke="#f2de30" stroke-width="1.6" stroke-linecap="square"/>
<line x1="184.8" y1="408.6" x2="226.0" y2="408.6" stroke="#263579" stroke-width="1.6" stroke-linecap="square"/>
<line x1="184.8" y1="425.9" x2="226.0" y2="425.9" stroke="#263579" stroke-width="1.6" stroke-linecap="square"/>
<line x1="184.8" y1="408.6" x2="184.8" y2="425.9" stroke="#263579" stroke-width="1.6" stroke-linecap="square"/>
<line x1="157.7" y1="417.2" x2="184.8" y2="417.2" stroke="#263579" stroke-width="1.6" stroke-linecap="square"/>
<line x1="157.7" y1="440.9" x2="226.0" y2="440.9" stroke="#263579" stroke-width="1.6" stroke-linecap="square"/>
<line x1="157.7" y1="417.2" x2="157.7" y2="440.9" stroke="#263579" stroke-width="1.6" stroke-linecap="square"/>
<line x1="48" y1="325.8" x2="72.8" y2="325.8" stroke="#263579" stroke-width="1.6" stroke-linecap="square"/>
<line x1="48" y1="430.0" x2="157.7" y2="430.0" stroke="#263579" stroke-width="1.6" stroke-linecap="square"/>
<line x1="48" y1="325.8" x2="48" y2="430.0" stroke="#263579" stroke-width="1.6" stroke-linecap="square"/>
<line x1="200.5" y1="344.8" x2="226.0" y2="344.8" stroke="#c8202e" stroke-width="1.6" stroke-linecap="square"/>
<line x1="200.5" y1="357.9" x2="226.0" y2="357.9" stroke="#c8202e" stroke-width="1.6" stroke-linecap="square"/>
<line x1="200.5" y1="344.8" x2="200.5" y2="357.9" stroke="#c8202e" stroke-width="1.6" stroke-linecap="square"/>
<line x1="178" y1="328.4" x2="226.0" y2="328.4" stroke="#c8202e" stroke-width="1.6" stroke-linecap="square"/>
<line x1="178" y1="350.6" x2="200.5" y2="350.6" stroke="#c8202e" stroke-width="1.6" stroke-linecap="square"/>
<line x1="178" y1="328.4" x2="178" y2="350.6" stroke="#c8202e" stroke-width="1.6" stroke-linecap="square"/>
<line x1="193.3" y1="371.6" x2="226.0" y2="371.6" stroke="#c8202e" stroke-width="1.6" stroke-linecap="square"/>
<line x1="193.3" y1="387.6" x2="226.0" y2="387.6" stroke="#c8202e" stroke-width="1.6" stroke-linecap="square"/>
<line x1="193.3" y1="371.6" x2="193.3" y2="387.6" stroke="#c8202e" stroke-width="1.6" stroke-linecap="square"/>
<line x1="164.4" y1="341.2" x2="178" y2="341.2" stroke="#c8202e" stroke-width="1.6" stroke-linecap="square"/>
<line x1="164.4" y1="379.3" x2="193.3" y2="379.3" stroke="#c8202e" stroke-width="1.6" stroke-linecap="square"/>
<line x1="164.4" y1="341.2" x2="164.4" y2="379.3" stroke="#c8202e" stroke-width="1.6" stroke-linecap="square"/>
<line x1="72.8" y1="289.6" x2="94.5" y2="289.6" stroke="#c8202e" stroke-width="1.6" stroke-linecap="square"/>
<line x1="72.8" y1="360.4" x2="164.4" y2="360.4" stroke="#c8202e" stroke-width="1.6" stroke-linecap="square"/>
<line x1="72.8" y1="289.6" x2="72.8" y2="360.4" stroke="#c8202e" stroke-width="1.6" stroke-linecap="square"/>
<line x1="206.3" y1="201.9" x2="226.0" y2="201.9" stroke="#2a8743" stroke-width="1.6" stroke-linecap="square"/>
<line x1="206.3" y1="218.0" x2="226.0" y2="218.0" stroke="#2a8743" stroke-width="1.6" stroke-linecap="square"/>
<line x1="206.3" y1="201.9" x2="206.3" y2="218.0" stroke="#2a8743" stroke-width="1.6" stroke-linecap="square"/>
<line x1="188.8" y1="210.2" x2="206.3" y2="210.2" stroke="#2a8743" stroke-width="1.6" stroke-linecap="square"/>
<line x1="188.8" y1="232.6" x2="226.0" y2="232.6" stroke="#2a8743" stroke-width="1.6" stroke-linecap="square"/>
<line x1="188.8" y1="210.2" x2="188.8" y2="232.6" stroke="#2a8743" stroke-width="1.6" stroke-linecap="square"/>
<line x1="185" y1="247.3" x2="226.0" y2="247.3" stroke="#2a8743" stroke-width="1.6" stroke-linecap="square"/>
<line x1="185" y1="264.1" x2="226.0" y2="264.1" stroke="#2a8743" stroke-width="1.6" stroke-linecap="square"/>
<line x1="185" y1="247.3" x2="185" y2="264.1" stroke="#2a8743" stroke-width="1.6" stroke-linecap="square"/>
<line x1="169.3" y1="255.8" x2="185" y2="255.8" stroke="#2a8743" stroke-width="1.6" stroke-linecap="square"/>
<line x1="169.3" y1="278.2" x2="226.0" y2="278.2" stroke="#2a8743" stroke-width="1.6" stroke-linecap="square"/>
<line x1="169.3" y1="255.8" x2="169.3" y2="278.2" stroke="#2a8743" stroke-width="1.6" stroke-linecap="square"/>
<line x1="131.4" y1="221.7" x2="188.8" y2="221.7" stroke="#2a8743" stroke-width="1.6" stroke-linecap="square"/>
<line x1="131.4" y1="267.1" x2="169.3" y2="267.1" stroke="#2a8743" stroke-width="1.6" stroke-linecap="square"/>
<line x1="131.4" y1="221.7" x2="131.4" y2="267.1" stroke="#2a8743" stroke-width="1.6" stroke-linecap="square"/>
<line x1="113.3" y1="244.8" x2="131.4" y2="244.8" stroke="#2a8743" stroke-width="1.6" stroke-linecap="square"/>
<line x1="113.3" y1="292.8" x2="226.0" y2="292.8" stroke="#2a8743" stroke-width="1.6" stroke-linecap="square"/>
<line x1="113.3" y1="244.8" x2="113.3" y2="292.8" stroke="#2a8743" stroke-width="1.6" stroke-linecap="square"/>
<line x1="94.5" y1="268.8" x2="113.3" y2="268.8" stroke="#2a8743" stroke-width="1.6" stroke-linecap="square"/>
<line x1="94.5" y1="309.9" x2="226.0" y2="309.9" stroke="#2a8743" stroke-width="1.6" stroke-linecap="square"/>
<line x1="94.5" y1="268.8" x2="94.5" y2="309.9" stroke="#2a8743" stroke-width="1.6" stroke-linecap="square"/>
<text x="229.5" y="203.9" font-family="Liberation Serif" font-size="9.9" fill="#458f55" font-weight="normal" font-style="italic" text-anchor="start" stroke="#458f55" stroke-width="0.18" textLength="29.6" lengthAdjust="spacingAndGlyphs">P. vivax</text>
<text x="229.5" y="220.0" font-family="Liberation Serif" font-size="9.9" fill="#458f55" font-weight="normal" font-style="italic" text-anchor="start" stroke="#458f55" stroke-width="0.18" textLength="48.7" lengthAdjust="spacingAndGlyphs">P. cynomolgi</text>
<text x="229.5" y="234.9" font-family="Liberation Serif" font-size="9.9" fill="#458f55" font-weight="normal" font-style="italic" text-anchor="start" stroke="#458f55" stroke-width="0.18" textLength="24.2" lengthAdjust="spacingAndGlyphs">P. inui</text>
<text x="229.5" y="250.10000000000002" font-family="Liberation Serif" font-size="9.9" fill="#458f55" font-weight="normal" font-style="italic" text-anchor="start" stroke="#458f55" stroke-width="0.18" textLength="40.8" lengthAdjust="spacingAndGlyphs">P. coatneyi</text>
<text x="229.5" y="267.2" font-family="Liberation Serif" font-size="9.9" fill="#458f55" font-weight="normal" font-style="italic" text-anchor="start" stroke="#458f55" stroke-width="0.18" textLength="42.5" lengthAdjust="spacingAndGlyphs">P. knowlesi</text>
<text x="229.5" y="281.40000000000003" font-family="Liberation Serif" font-size="9.9" fill="#458f55" font-weight="normal" font-style="italic" text-anchor="start" stroke="#458f55" stroke-width="0.18" textLength="34.6" lengthAdjust="spacingAndGlyphs">P. fragile</text>
<text x="229.5" y="296.90000000000003" font-family="Liberation Serif" font-size="9.9" fill="#458f55" font-weight="normal" font-style="italic" text-anchor="start" stroke="#458f55" stroke-width="0.18" textLength="43.7" lengthAdjust="spacingAndGlyphs">P. malariae</text>
<text x="230.0" y="312.8" font-family="Liberation Serif" font-size="9.9" fill="#458f55" font-weight="normal" font-style="italic" text-anchor="start" stroke="#458f55" stroke-width="0.18" textLength="55.9" lengthAdjust="spacingAndGlyphs">P. ovale curtisi</text>
<text x="231.2" y="330.8" font-family="Liberation Serif" font-size="9.9" fill="#c8323c" font-weight="normal" font-style="italic" text-anchor="start" stroke="#c8323c" stroke-width="0.18" textLength="44.3" lengthAdjust="spacingAndGlyphs">P. chabaudi</text>
<text x="231.0" y="346.8" font-family="Liberation Serif" font-size="9.9" fill="#c8323c" font-weight="normal" font-style="italic" text-anchor="start" stroke="#c8323c" stroke-width="0.18" textLength="62.7" lengthAdjust="spacingAndGlyphs">P. vinckei petteri</text>
<text x="231.0" y="360.2" font-family="Liberation Serif" font-size="9.9" fill="#c8323c" font-weight="normal" font-style="italic" text-anchor="start" stroke="#c8323c" stroke-width="0.18" textLength="65.4" lengthAdjust="spacingAndGlyphs">P. vinckei vinckei</text>
<text x="229.5" y="373.90000000000003" font-family="Liberation Serif" font-size="9.9" fill="#c8323c" font-weight="normal" font-style="italic" text-anchor="start" stroke="#c8323c" stroke-width="0.18" textLength="38.0" lengthAdjust="spacingAndGlyphs">P. berghei</text>
<text x="229.5" y="390.0" font-family="Liberation Serif" font-size="9.9" fill="#c8323c" font-weight="normal" font-style="italic" text-anchor="start" stroke="#c8323c" stroke-width="0.18" textLength="30.6" lengthAdjust="spacingAndGlyphs">P. yoelii</text>
<text x="229.7" y="411.6" font-family="Liberation Serif" font-size="9.9" fill="#2a3a88" font-weight="normal" font-style="italic" text-anchor="start" stroke="#2a3a88" stroke-width="0.18" textLength="50.2" lengthAdjust="spacingAndGlyphs">P. falciparum</text>
<text x="229.7" y="428.40000000000003" font-family="Liberation Serif" font-size="9.9" fill="#2a3a88" font-weight="normal" font-style="italic" text-anchor="start" stroke="#2a3a88" stroke-width="0.18" textLength="50.2" lengthAdjust="spacingAndGlyphs">P. reichenowi</text>
<text x="229.7" y="443.8" font-family="Liberation Serif" font-size="9.9" fill="#2a3a88" font-weight="normal" font-style="italic" text-anchor="start" stroke="#2a3a88" stroke-width="0.18" textLength="35.2" lengthAdjust="spacingAndGlyphs">P. gaboni</text>
<text x="229.5" y="460.6" font-family="Liberation Serif" font-size="9.9" fill="#c0902e" font-weight="normal" font-style="italic" text-anchor="start" stroke="#c0902e" stroke-width="0.18" textLength="36.9" lengthAdjust="spacingAndGlyphs">P. relictum</text>
<text x="85" y="264.6" font-family="Liberation Serif" font-size="9.3" fill="#3b8a4c" font-weight="normal" font-style="normal" text-anchor="start" stroke="#3b8a4c" stroke-width="0.18" textLength="26" lengthAdjust="spacingAndGlyphs">Simian</text>
<text x="64.7" y="285.9" font-family="Liberation Serif" font-size="9.3" fill="#c8323c" font-weight="normal" font-style="normal" text-anchor="start" stroke="#c8323c" stroke-width="0.18" textLength="26.4" lengthAdjust="spacingAndGlyphs">Rodent</text>
<text x="30.2" y="322.4" font-family="Liberation Serif" font-size="9.4" fill="#2a3a88" font-weight="normal" font-style="italic" text-anchor="start" stroke="#2a3a88" stroke-width="0.18" textLength="38.4" lengthAdjust="spacingAndGlyphs">Laverania</text>
<text x="1.9" y="371.6" font-family="Liberation Serif" font-size="9.0" fill="#b8883c" font-weight="normal" font-style="normal" text-anchor="start" stroke="#b8883c" stroke-width="0.18" textLength="43" lengthAdjust="spacingAndGlyphs">Bird/reptiles</text>
<line x1="15.5" y1="468.3" x2="227.2" y2="468.3" stroke="#444" stroke-width="0.9" />
<line x1="15.8" y1="468.3" x2="15.8" y2="475" stroke="#444" stroke-width="0.9" />
<text x="15.8" y="482.3" font-family="Liberation Serif" font-size="6.5" fill="#333" font-weight="normal" font-style="normal" text-anchor="middle" >40</text>
<line x1="56.4" y1="468.3" x2="56.4" y2="475" stroke="#444" stroke-width="0.9" />
<text x="56.4" y="482.3" font-family="Liberation Serif" font-size="6.5" fill="#333" font-weight="normal" font-style="normal" text-anchor="middle" >35</text>
<line x1="98.6" y1="468.3" x2="98.6" y2="475" stroke="#444" stroke-width="0.9" />
<text x="98.6" y="482.3" font-family="Liberation Serif" font-size="6.5" fill="#333" font-weight="normal" font-style="normal" text-anchor="middle" >25</text>
<line x1="141.3" y1="468.3" x2="141.3" y2="475" stroke="#444" stroke-width="0.9" />
<text x="141.3" y="482.3" font-family="Liberation Serif" font-size="6.5" fill="#333" font-weight="normal" font-style="normal" text-anchor="middle" >15</text>
<line x1="185" y1="468.3" x2="185" y2="475" stroke="#444" stroke-width="0.9" />
<text x="185" y="482.3" font-family="Liberation Serif" font-size="6.5" fill="#333" font-weight="normal" font-style="normal" text-anchor="middle" >5</text>
<line x1="227" y1="468.3" x2="227" y2="475" stroke="#444" stroke-width="0.9" />
<text x="227" y="482.3" font-family="Liberation Serif" font-size="6.5" fill="#333" font-weight="normal" font-style="normal" text-anchor="middle" >0</text>
<text x="230" y="473.5" font-family="Liberation Serif" font-size="7" fill="#222" font-weight="bold" font-style="normal" text-anchor="start" >Mya</text>
<text x="287.6" y="192.8" font-family="Liberation Sans" font-size="9.3" fill="#111" font-weight="bold" font-style="normal" text-anchor="start" >(c)</text>
<rect x="305" y="190.2" width="209.8" height="127.7" fill="#e0eedf"/>
<rect x="305" y="317.9" width="209.8" height="78.1" fill="#f2ddd6"/>
<rect x="305" y="396" width="209.8" height="54" fill="#e5e2ec"/>
<rect x="305" y="450" width="209.8" height="14.7" fill="#fbf2b6"/>
<text x="337.2" y="180.7" font-family="Liberation Serif" font-size="8.1" fill="#1e1e1e" font-weight="bold" font-style="normal" text-anchor="middle" stroke="#1e1e1e" stroke-width="0.18">Length (bp)</text>
<text x="389.0" y="173.3" font-family="Liberation Serif" font-size="8.1" fill="#1e1e1e" font-weight="bold" font-style="normal" text-anchor="middle" stroke="#1e1e1e" stroke-width="0.18">Genomic GC</text>
<text x="389.0" y="184.0" font-family="Liberation Serif" font-size="8.1" fill="#1e1e1e" font-weight="bold" font-style="normal" text-anchor="middle" stroke="#1e1e1e" stroke-width="0.18">content (%)</text>
<text x="439.1" y="173.3" font-family="Liberation Serif" font-size="8.1" fill="#1e1e1e" font-weight="bold" font-style="normal" text-anchor="middle" stroke="#1e1e1e" stroke-width="0.18">Coding GC</text>
<text x="439.1" y="184.0" font-family="Liberation Serif" font-size="8.1" fill="#1e1e1e" font-weight="bold" font-style="normal" text-anchor="middle" stroke="#1e1e1e" stroke-width="0.18">content (%)</text>
<text x="491.0" y="173.3" font-family="Liberation Serif" font-size="8.1" fill="#1e1e1e" font-weight="bold" font-style="normal" text-anchor="middle" stroke="#1e1e1e" stroke-width="0.18">Wobble GC</text>
<text x="491.0" y="184.0" font-family="Liberation Serif" font-size="8.1" fill="#1e1e1e" font-weight="bold" font-style="normal" text-anchor="middle" stroke="#1e1e1e" stroke-width="0.18">content (%)</text>
<text x="337.4" y="203.4" font-family="Liberation Serif" font-size="8.6" fill="#1c8240" font-weight="bold" font-style="normal" text-anchor="middle" stroke="#1c8240" stroke-width="0.15">24,214,674</text>
<text x="388.5" y="203.4" font-family="Liberation Serif" font-size="8.6" fill="#1c8240" font-weight="bold" font-style="normal" text-anchor="middle" stroke="#1c8240" stroke-width="0.15">43.20</text>
<text x="439.2" y="203.4" font-family="Liberation Serif" font-size="8.6" fill="#1c8240" font-weight="bold" font-style="normal" text-anchor="middle" stroke="#1c8240" stroke-width="0.15">46.22</text>
<text x="491.6" y="203.4" font-family="Liberation Serif" font-size="8.6" fill="#1c8240" font-weight="bold" font-style="normal" text-anchor="middle" stroke="#1c8240" stroke-width="0.15">56.39</text>
<text x="337.4" y="218.6" font-family="Liberation Serif" font-size="8.6" fill="#1c8240" font-weight="bold" font-style="normal" text-anchor="middle" stroke="#1c8240" stroke-width="0.15">22,728,335</text>
<text x="388.5" y="218.6" font-family="Liberation Serif" font-size="8.6" fill="#1c8240" font-weight="bold" font-style="normal" text-anchor="middle" stroke="#1c8240" stroke-width="0.15">40.96</text>
<text x="439.2" y="218.6" font-family="Liberation Serif" font-size="8.6" fill="#1c8240" font-weight="bold" font-style="normal" text-anchor="middle" stroke="#1c8240" stroke-width="0.15">42.63</text>
<text x="491.6" y="218.6" font-family="Liberation Serif" font-size="8.6" fill="#1c8240" font-weight="bold" font-style="normal" text-anchor="middle" stroke="#1c8240" stroke-width="0.15">49.96</text>
<text x="337.4" y="234.0" font-family="Liberation Serif" font-size="8.6" fill="#1c8240" font-weight="bold" font-style="normal" text-anchor="middle" stroke="#1c8240" stroke-width="0.15">27,405,027</text>
<text x="388.5" y="234.0" font-family="Liberation Serif" font-size="8.6" fill="#1c8240" font-weight="bold" font-style="normal" text-anchor="middle" stroke="#1c8240" stroke-width="0.15">40.37</text>
<text x="439.2" y="234.0" font-family="Liberation Serif" font-size="8.6" fill="#1c8240" font-weight="bold" font-style="normal" text-anchor="middle" stroke="#1c8240" stroke-width="0.15">43.63</text>
<text x="491.6" y="234.0" font-family="Liberation Serif" font-size="8.6" fill="#1c8240" font-weight="bold" font-style="normal" text-anchor="middle" stroke="#1c8240" stroke-width="0.15">49.63</text>
<text x="337.4" y="249.4" font-family="Liberation Serif" font-size="8.6" fill="#1c8240" font-weight="bold" font-style="normal" text-anchor="middle" stroke="#1c8240" stroke-width="0.15">27,685,530</text>
<text x="388.5" y="249.4" font-family="Liberation Serif" font-size="8.6" fill="#1c8240" font-weight="bold" font-style="normal" text-anchor="middle" stroke="#1c8240" stroke-width="0.15">39.64</text>
<text x="439.2" y="249.4" font-family="Liberation Serif" font-size="8.6" fill="#1c8240" font-weight="bold" font-style="normal" text-anchor="middle" stroke="#1c8240" stroke-width="0.15">41.95</text>
<text x="491.6" y="249.4" font-family="Liberation Serif" font-size="8.6" fill="#1c8240" font-weight="bold" font-style="normal" text-anchor="middle" stroke="#1c8240" stroke-width="0.15">48.83</text>
<text x="337.4" y="264.8" font-family="Liberation Serif" font-size="8.6" fill="#1c8240" font-weight="bold" font-style="normal" text-anchor="middle" stroke="#1c8240" stroke-width="0.15">23,462,187</text>
<text x="388.5" y="264.8" font-family="Liberation Serif" font-size="8.6" fill="#1c8240" font-weight="bold" font-style="normal" text-anchor="middle" stroke="#1c8240" stroke-width="0.15">37.54</text>
<text x="439.2" y="264.8" font-family="Liberation Serif" font-size="8.6" fill="#1c8240" font-weight="bold" font-style="normal" text-anchor="middle" stroke="#1c8240" stroke-width="0.15">40.23</text>
<text x="491.6" y="264.8" font-family="Liberation Serif" font-size="8.6" fill="#1c8240" font-weight="bold" font-style="normal" text-anchor="middle" stroke="#1c8240" stroke-width="0.15">45.56</text>
<text x="337.4" y="280.2" font-family="Liberation Serif" font-size="8.6" fill="#1c8240" font-weight="bold" font-style="normal" text-anchor="middle" stroke="#1c8240" stroke-width="0.15">25,914,542</text>
<text x="388.5" y="280.2" font-family="Liberation Serif" font-size="8.6" fill="#1c8240" font-weight="bold" font-style="normal" text-anchor="middle" stroke="#1c8240" stroke-width="0.15">36.48</text>
<text x="439.2" y="280.2" font-family="Liberation Serif" font-size="8.6" fill="#1c8240" font-weight="bold" font-style="normal" text-anchor="middle" stroke="#1c8240" stroke-width="0.15">42.11</text>
<text x="491.6" y="280.2" font-family="Liberation Serif" font-size="8.6" fill="#1c8240" font-weight="bold" font-style="normal" text-anchor="middle" stroke="#1c8240" stroke-width="0.15">46.71</text>
<text x="337.4" y="296.0" font-family="Liberation Serif" font-size="8.6" fill="#1c8240" font-weight="bold" font-style="normal" text-anchor="middle" stroke="#1c8240" stroke-width="0.15">29,539,458</text>
<text x="388.5" y="296.0" font-family="Liberation Serif" font-size="8.6" fill="#1c8240" font-weight="bold" font-style="normal" text-anchor="middle" stroke="#1c8240" stroke-width="0.15">25.12</text>
<text x="439.2" y="296.0" font-family="Liberation Serif" font-size="8.6" fill="#1c8240" font-weight="bold" font-style="normal" text-anchor="middle" stroke="#1c8240" stroke-width="0.15">29.16</text>
<text x="491.6" y="296.0" font-family="Liberation Serif" font-size="8.6" fill="#1c8240" font-weight="bold" font-style="normal" text-anchor="middle" stroke="#1c8240" stroke-width="0.15">26.27</text>
<text x="337.4" y="311.7" font-family="Liberation Serif" font-size="8.6" fill="#1c8240" font-weight="bold" font-style="normal" text-anchor="middle" stroke="#1c8240" stroke-width="0.15">20,709,934</text>
<text x="388.5" y="311.7" font-family="Liberation Serif" font-size="8.6" fill="#1c8240" font-weight="bold" font-style="normal" text-anchor="middle" stroke="#1c8240" stroke-width="0.15">32.83</text>
<text x="439.2" y="311.7" font-family="Liberation Serif" font-size="8.6" fill="#1c8240" font-weight="bold" font-style="normal" text-anchor="middle" stroke="#1c8240" stroke-width="0.15">33.33</text>
<text x="491.6" y="311.7" font-family="Liberation Serif" font-size="8.6" fill="#1c8240" font-weight="bold" font-style="normal" text-anchor="middle" stroke="#1c8240" stroke-width="0.15">32.19</text>
<text x="337.4" y="331.9" font-family="Liberation Serif" font-size="8.6" fill="#c8222c" font-weight="bold" font-style="normal" text-anchor="middle" stroke="#c8222c" stroke-width="0.15">18,394,972</text>
<text x="388.5" y="331.9" font-family="Liberation Serif" font-size="8.6" fill="#c8222c" font-weight="bold" font-style="normal" text-anchor="middle" stroke="#c8222c" stroke-width="0.15">23.64</text>
<text x="439.2" y="331.9" font-family="Liberation Serif" font-size="8.6" fill="#c8222c" font-weight="bold" font-style="normal" text-anchor="middle" stroke="#c8222c" stroke-width="0.15">25.49</text>
<text x="491.6" y="331.9" font-family="Liberation Serif" font-size="8.6" fill="#c8222c" font-weight="bold" font-style="normal" text-anchor="middle" stroke="#c8222c" stroke-width="0.15">18.53</text>
<text x="337.4" y="346.0" font-family="Liberation Serif" font-size="8.6" fill="#c8222c" font-weight="bold" font-style="normal" text-anchor="middle" stroke="#c8222c" stroke-width="0.15">18,931,523</text>
<text x="388.5" y="346.0" font-family="Liberation Serif" font-size="8.6" fill="#c8222c" font-weight="bold" font-style="normal" text-anchor="middle" stroke="#c8222c" stroke-width="0.15">22.85</text>
<text x="439.2" y="346.0" font-family="Liberation Serif" font-size="8.6" fill="#c8222c" font-weight="bold" font-style="normal" text-anchor="middle" stroke="#c8222c" stroke-width="0.15">25.08</text>
<text x="491.6" y="346.0" font-family="Liberation Serif" font-size="8.6" fill="#c8222c" font-weight="bold" font-style="normal" text-anchor="middle" stroke="#c8222c" stroke-width="0.15">19.92</text>
<text x="337.4" y="360.2" font-family="Liberation Serif" font-size="8.6" fill="#c8222c" font-weight="bold" font-style="normal" text-anchor="middle" stroke="#c8222c" stroke-width="0.15">18,221,643</text>
<text x="388.5" y="360.2" font-family="Liberation Serif" font-size="8.6" fill="#c8222c" font-weight="bold" font-style="normal" text-anchor="middle" stroke="#c8222c" stroke-width="0.15">22.43</text>
<text x="439.2" y="360.2" font-family="Liberation Serif" font-size="8.6" fill="#c8222c" font-weight="bold" font-style="normal" text-anchor="middle" stroke="#c8222c" stroke-width="0.15">24.66</text>
<text x="491.6" y="360.2" font-family="Liberation Serif" font-size="8.6" fill="#c8222c" font-weight="bold" font-style="normal" text-anchor="middle" stroke="#c8222c" stroke-width="0.15">19.29</text>
<text x="337.4" y="375.0" font-family="Liberation Serif" font-size="8.6" fill="#c8222c" font-weight="bold" font-style="normal" text-anchor="middle" stroke="#c8222c" stroke-width="0.15">18,607,862</text>
<text x="388.5" y="375.0" font-family="Liberation Serif" font-size="8.6" fill="#c8222c" font-weight="bold" font-style="normal" text-anchor="middle" stroke="#c8222c" stroke-width="0.15">22.06</text>
<text x="439.2" y="375.0" font-family="Liberation Serif" font-size="8.6" fill="#c8222c" font-weight="bold" font-style="normal" text-anchor="middle" stroke="#c8222c" stroke-width="0.15">23.76</text>
<text x="491.6" y="375.0" font-family="Liberation Serif" font-size="8.6" fill="#c8222c" font-weight="bold" font-style="normal" text-anchor="middle" stroke="#c8222c" stroke-width="0.15">18.92</text>
<text x="337.4" y="390.1" font-family="Liberation Serif" font-size="8.6" fill="#c8222c" font-weight="bold" font-style="normal" text-anchor="middle" stroke="#c8222c" stroke-width="0.15">20,260,639</text>
<text x="388.5" y="390.1" font-family="Liberation Serif" font-size="8.6" fill="#c8222c" font-weight="bold" font-style="normal" text-anchor="middle" stroke="#c8222c" stroke-width="0.15">21.28</text>
<text x="439.2" y="390.1" font-family="Liberation Serif" font-size="8.6" fill="#c8222c" font-weight="bold" font-style="normal" text-anchor="middle" stroke="#c8222c" stroke-width="0.15">23.62</text>
<text x="491.6" y="390.1" font-family="Liberation Serif" font-size="8.6" fill="#c8222c" font-weight="bold" font-style="normal" text-anchor="middle" stroke="#c8222c" stroke-width="0.15">18.16</text>
<text x="337.4" y="410.7" font-family="Liberation Serif" font-size="8.6" fill="#1c2a72" font-weight="bold" font-style="normal" text-anchor="middle" stroke="#1c2a72" stroke-width="0.15">23,264,338</text>
<text x="388.5" y="410.7" font-family="Liberation Serif" font-size="8.6" fill="#1c2a72" font-weight="bold" font-style="normal" text-anchor="middle" stroke="#1c2a72" stroke-width="0.15">18.44</text>
<text x="439.2" y="410.7" font-family="Liberation Serif" font-size="8.6" fill="#1c2a72" font-weight="bold" font-style="normal" text-anchor="middle" stroke="#1c2a72" stroke-width="0.15">23.76</text>
<text x="491.6" y="410.7" font-family="Liberation Serif" font-size="8.6" fill="#1c2a72" font-weight="bold" font-style="normal" text-anchor="middle" stroke="#1c2a72" stroke-width="0.15">17.38</text>
<text x="337.4" y="426.9" font-family="Liberation Serif" font-size="8.6" fill="#1c2a72" font-weight="bold" font-style="normal" text-anchor="middle" stroke="#1c2a72" stroke-width="0.15">21,462,512</text>
<text x="388.5" y="426.9" font-family="Liberation Serif" font-size="8.6" fill="#1c2a72" font-weight="bold" font-style="normal" text-anchor="middle" stroke="#1c2a72" stroke-width="0.15">18.76</text>
<text x="439.2" y="426.9" font-family="Liberation Serif" font-size="8.6" fill="#1c2a72" font-weight="bold" font-style="normal" text-anchor="middle" stroke="#1c2a72" stroke-width="0.15">23.34</text>
<text x="491.6" y="426.9" font-family="Liberation Serif" font-size="8.6" fill="#1c2a72" font-weight="bold" font-style="normal" text-anchor="middle" stroke="#1c2a72" stroke-width="0.15">18.81</text>
<text x="337.4" y="442.9" font-family="Liberation Serif" font-size="8.6" fill="#1c2a72" font-weight="bold" font-style="normal" text-anchor="middle" stroke="#1c2a72" stroke-width="0.15">18,878,758</text>
<text x="388.5" y="442.9" font-family="Liberation Serif" font-size="8.6" fill="#1c2a72" font-weight="bold" font-style="normal" text-anchor="middle" stroke="#1c2a72" stroke-width="0.15">17.85</text>
<text x="439.2" y="442.9" font-family="Liberation Serif" font-size="8.6" fill="#1c2a72" font-weight="bold" font-style="normal" text-anchor="middle" stroke="#1c2a72" stroke-width="0.15">22.25</text>
<text x="491.6" y="442.9" font-family="Liberation Serif" font-size="8.6" fill="#1c2a72" font-weight="bold" font-style="normal" text-anchor="middle" stroke="#1c2a72" stroke-width="0.15">15.69</text>
<text x="337.4" y="460.8" font-family="Liberation Serif" font-size="8.6" fill="#a07c2a" font-weight="bold" font-style="normal" text-anchor="middle" stroke="#a07c2a" stroke-width="0.15">22,607,426</text>
<text x="388.5" y="460.8" font-family="Liberation Serif" font-size="8.6" fill="#a07c2a" font-weight="bold" font-style="normal" text-anchor="middle" stroke="#a07c2a" stroke-width="0.15">18.30</text>
<text x="439.2" y="460.8" font-family="Liberation Serif" font-size="8.6" fill="#a07c2a" font-weight="bold" font-style="normal" text-anchor="middle" stroke="#a07c2a" stroke-width="0.15">21.57</text>
<text x="491.6" y="460.8" font-family="Liberation Serif" font-size="8.6" fill="#a07c2a" font-weight="bold" font-style="normal" text-anchor="middle" stroke="#a07c2a" stroke-width="0.15">16.92</text>
</svg>
</body></html>
